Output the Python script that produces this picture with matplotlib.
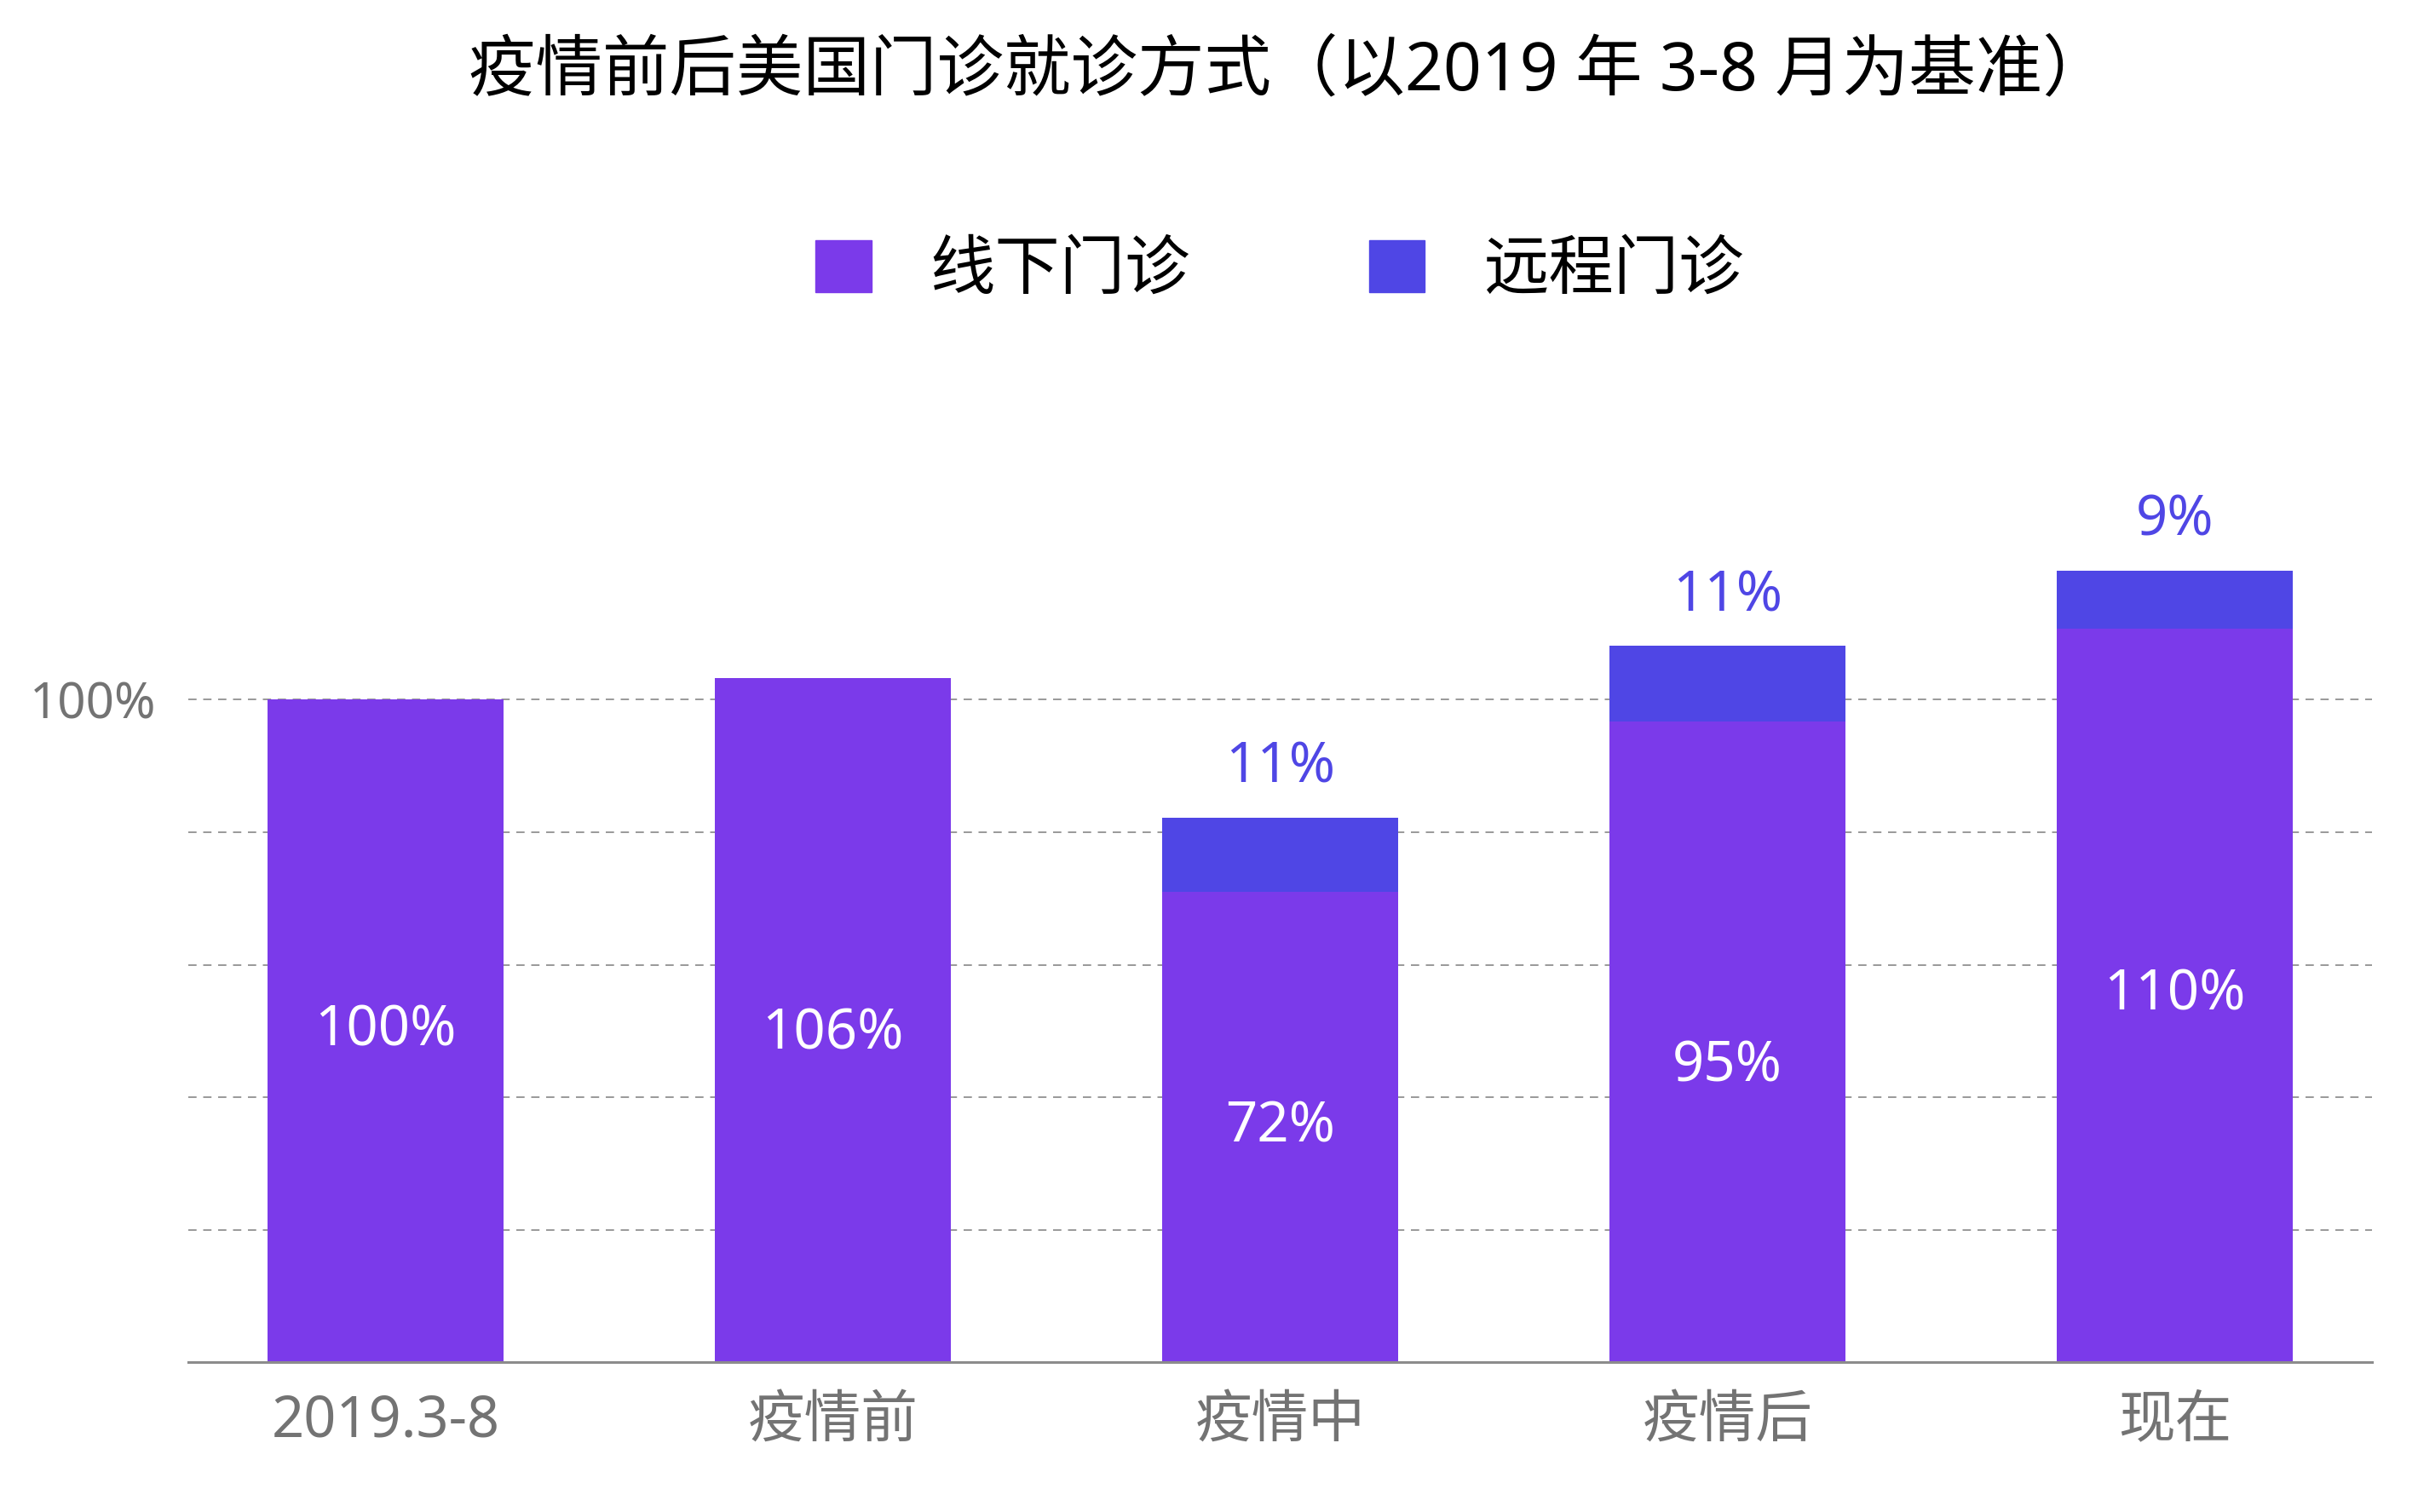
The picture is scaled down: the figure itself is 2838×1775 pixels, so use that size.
import matplotlib.pyplot as plt
from matplotlib.patches import Patch

plt.rcParams['font.family'] = ['Noto Sans', 'Noto Sans CJK SC', 'DejaVu Sans']

# data
categories = ['2019.3-8', '疫情前', '疫情中', '疫情后', '现在']
offline = [100, 103.3, 71, 96.7, 110.7]
remote = [0, 0, 11.2, 11.4, 8.8]
offline_labels = ['100%', '106%', '72%', '95%', '110%']
remote_labels = ['', '', '11%', '11%', '9%']
yticks = [0, 20, 40, 60, 80, 100]
ytick_labels = ['', '', '', '', '', '100%']

purple = '#7b3aea'
blue = '#4f46e5'
grey = '#737373'
# small vertical nudges (points) for the inner labels, as placed in the original
label_nudge = [0, -12, 0, -21, 0]

fig = plt.figure(figsize=(28.38, 17.75), dpi=100)
ax = fig.add_axes([0.0778, 0.0989, 0.9032, 0.5479])

x = range(len(categories))
b1 = ax.bar(x, offline, width=0.528, color=purple, zorder=2)
b2 = ax.bar(x, remote, width=0.528, bottom=offline, color=blue, zorder=2)

for i in x:
    ax.annotate(offline_labels[i], (i, offline[i] / 2),
                xytext=(0, label_nudge[i]), textcoords='offset points',
                ha='center', va='center', color='white', fontsize=47, zorder=3)
    if remote_labels[i]:
        ax.annotate(remote_labels[i], (i, offline[i] + remote[i]),
                    xytext=(0, 42), textcoords='offset points',
                    ha='center', va='center', color=blue, fontsize=47)

ax.set_xlim(-0.441, 4.441)
ax.set_ylim(0, 125)
ax.set_xticks(list(x))
ax.set_xticklabels(categories, fontsize=48, color=grey)
ax.set_yticks(yticks)
ax.set_yticklabels(ytick_labels, fontsize=42, color=grey)
ax.tick_params(axis='both', length=0)
ax.tick_params(axis='x', pad=25)
ax.tick_params(axis='y', pad=27)
ax.yaxis.grid(True, linestyle=(0, (5, 4)), color='#999999', linewidth=1.4, zorder=0)
for s in ['top', 'right', 'left']:
    ax.spines[s].set_visible(False)
ax.spines['bottom'].set_color('#8c8c8c')
ax.spines['bottom'].set_linewidth(2.2)

fig.text(0.533, 0.952, '疫情前后美国门诊就诊方式（以2019 年 3-8 月为基准）',
         ha='center', va='center', fontsize=56.5, color='black')

handles = [Patch(color=purple, label='线下门诊'), Patch(color=blue, label='远程门诊')]
fig.legend(handles=handles, ncol=2, loc='center', bbox_to_anchor=(0.5292, 0.8205),
           frameon=False, fontsize=55, handlelength=0.855, handleheight=0.855,
           handletextpad=0.9, columnspacing=2.75)

fig.savefig('out.png', dpi=100)
